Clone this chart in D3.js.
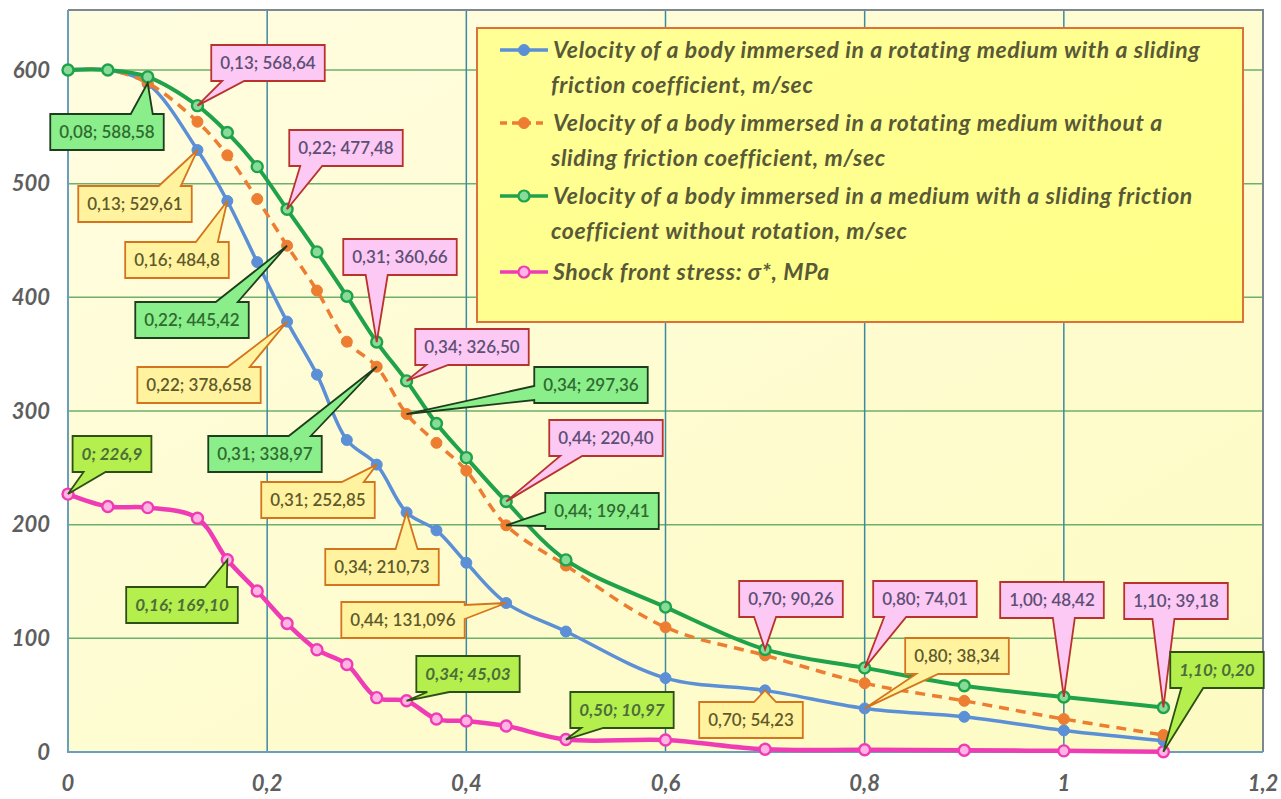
<!DOCTYPE html>
<html>
<head>
<meta charset="utf-8">
<script src="https://cdn.jsdelivr.net/npm/d3@7"></script>
<style>
body { margin: 0; background: #fff; }
svg { display: block; font-family: Lato, "Open Sans", sans-serif; }
</style>
</head>
<body>
<svg id="chart" width="1281" height="799"></svg>
<script>
// x = distance, same for every series
var xValues = [0, 0.04, 0.08, 0.13, 0.16, 0.19, 0.22, 0.25, 0.28, 0.31, 0.34, 0.37, 0.40, 0.44, 0.50, 0.60, 0.70, 0.80, 0.90, 1.00, 1.10];

// velocity, rotating medium, with sliding friction (m/sec)
var rotFriction = [600, 600, 588, 529.61, 484.8, 431, 378.658, 332, 274.5, 252.85, 210.73, 195, 166.5, 131.096, 106, 65, 54.23, 38.34, 31, 19, 10];
// velocity, rotating medium, without sliding friction (m/sec)
var rotNoFriction = [600, 600, 588.58, 554.5, 525, 486.5, 445.42, 406, 361, 338.97, 297.36, 272, 247.5, 199.41, 164, 109.7, 85, 60.5, 45, 29, 15];
// velocity, medium with friction, no rotation (m/sec)
var noRotation = [600, 600, 594, 568.64, 545, 515, 477.48, 440, 401, 360.66, 326.50, 289, 259, 220.40, 169, 127.5, 90.26, 74.01, 58.3, 48.42, 39.18];
// shock front stress (MPa)
var shockStress = [226.9, 216, 215, 205.6, 169.10, 141.6, 113, 90, 77, 47.8, 45.03, 29, 27.3, 22.9, 10.97, 10.5, 2.4, 2, 1.5, 1, 0.20];

var xTicks = [0, 0.2, 0.4, 0.6, 0.8, 1, 1.2];
var xTickLabels = ["0", "0,2", "0,4", "0,6", "0,8", "1", "1,2"];
var yTicks = [0, 100, 200, 300, 400, 500, 600];

var seriesNames = [
  ["Velocity of a body immersed in a rotating medium with a sliding", "friction coefficient, m/sec"],
  ["Velocity of a body immersed in a rotating medium without a", "sliding friction coefficient, m/sec"],
  ["Velocity of a body immersed in a medium with a sliding friction", "coefficient without rotation, m/sec"],
  ["Shock front stress: \u03c3*, MPa"]
];

// data labels: [series, point index, text]
var callouts = [
  [2, 3, "0,13; 568,64"], [1, 2, "0,08; 588,58"], [2, 6, "0,22; 477,48"],
  [0, 3, "0,13; 529,61"], [0, 4, "0,16; 484,8"], [2, 9, "0,31; 360,66"],
  [1, 6, "0,22; 445,42"], [0, 6, "0,22; 378,658"], [2, 10, "0,34; 326,50"],
  [1, 10, "0,34; 297,36"], [1, 9, "0,31; 338,97"], [0, 9, "0,31; 252,85"],
  [2, 13, "0,44; 220,40"], [1, 13, "0,44; 199,41"], [0, 10, "0,34; 210,73"],
  [0, 13, "0,44; 131,096"], [3, 4, "0,16; 169,10"], [3, 0, "0; 226,9"],
  [3, 10, "0,34; 45,03"], [3, 14, "0,50; 10,97"], [2, 16, "0,70; 90,26"],
  [0, 16, "0,70; 54,23"], [2, 17, "0,80; 74,01"], [0, 17, "0,80; 38,34"],
  [2, 19, "1,00; 48,42"], [2, 20, "1,10; 39,18"], [3, 20, "1,10; 0,20"]
];
// where each label box sits (centre, px)
var calloutPos = [
  [268, 63], [107, 132], [346, 148], [135, 204], [177, 260], [400, 257],
  [192, 320], [199, 385], [472, 347], [591, 385], [265, 454], [318, 500],
  [606, 438], [602, 511], [382, 567], [403, 620], [182, 605], [112, 454],
  [468, 674], [622, 710], [791, 599], [751, 720], [925, 599], [957, 656],
  [1052, 600], [1176, 601], [1217, 670]
];

var allSeries = [rotFriction, rotNoFriction, noRotation, shockStress];
var lineColors = ["#5b8fd6", "#ed7d31", "#1fa24a", "#f03cb4"];
var markerFill = ["#5b8fd6", "#ed7d31", "#86dc98", "#ffb4e4"];
var boxStyles = [
  {fill: "#fff3a0", stroke: "#d4741e", text: "#5f5a2a", italic: false},
  {fill: "#8aee8a", stroke: "#1e3c1e", text: "#2f6a2f", italic: false},
  {fill: "#fcc8f4", stroke: "#b8322e", text: "#5d4f75", italic: false},
  {fill: "#b5ef4e", stroke: "#2c4f16", text: "#4c6e38", italic: true}
];

var pL = 68, pR = 1263, pT = 10, pB = 752;
var svg = d3.select("#chart");
var x = d3.scaleLinear().domain([0, 1.2]).range([pL, pR]);
var y = d3.scaleLinear().domain([0, 652.8]).range([pB, pT]);

var defs = svg.append("defs");
var g1 = defs.append("linearGradient").attr("id", "plotBg").attr("x1", 0).attr("y1", 0).attr("x2", 1).attr("y2", 1);
g1.append("stop").attr("offset", 0).attr("stop-color", "#fffde0");
g1.append("stop").attr("offset", 1).attr("stop-color", "#fdfbc2");
var g2 = defs.append("linearGradient").attr("id", "legBg").attr("x1", 0).attr("y1", 0).attr("x2", 1).attr("y2", 1);
g2.append("stop").attr("offset", 0).attr("stop-color", "#ffff96");
g2.append("stop").attr("offset", 1).attr("stop-color", "#ffff88");

svg.append("rect").attr("x", pL).attr("y", pT).attr("width", pR - pL).attr("height", pB - pT)
  .attr("fill", "url(#plotBg)");

// grid
svg.selectAll("line.hgrid").data(yTicks.slice(1)).enter().append("line")
  .attr("class", "hgrid")
  .attr("x1", pL).attr("x2", pR)
  .attr("y1", function(d) { return y(d); }).attr("y2", function(d) { return y(d); })
  .attr("stroke", "#6cb06c").attr("stroke-width", 1.5);
svg.selectAll("line.vgrid").data(xTicks.slice(1, -1)).enter().append("line")
  .attr("class", "vgrid")
  .attr("y1", pT).attr("y2", pB)
  .attr("x1", function(d) { return x(d); }).attr("x2", function(d) { return x(d); })
  .attr("stroke", "#3a8aa6").attr("stroke-width", 1.5);

// frame
svg.append("path").attr("d", "M" + pL + "," + pT + "H" + pR + "V" + pB)
  .attr("fill", "none").attr("stroke", "#7d8890").attr("stroke-width", 2);
svg.append("path").attr("d", "M" + pL + "," + pT + "V" + pB + "H" + pR)
  .attr("fill", "none").attr("stroke", "#6a9ec0").attr("stroke-width", 2);

// tick labels
svg.selectAll("text.ylab").data(yTicks).enter().append("text")
  .attr("class", "ylab")
  .attr("x", 50).attr("y", function(d) { return y(d); })
  .attr("dy", "0.35em").attr("text-anchor", "end")
  .attr("font-size", 22).attr("font-style", "italic").attr("font-weight", "bold")
  .attr("fill", "#5e5e5e")
  .text(function(d) { return d; });
svg.selectAll("text.xlab").data(xTicks).enter().append("text")
  .attr("class", "xlab")
  .attr("x", function(d) { return x(d); }).attr("y", 783)
  .attr("dy", "0.35em").attr("text-anchor", "middle")
  .attr("font-size", 22).attr("font-style", "italic").attr("font-weight", "bold")
  .attr("fill", "#5e5e5e")
  .text(function(d, i) { return xTickLabels[i]; });

// legend
var legX = 477, legY = 28;
svg.append("rect").attr("x", legX).attr("y", legY).attr("width", 766).attr("height", 294)
  .attr("fill", "url(#legBg)").attr("stroke", "#e0703a").attr("stroke-width", 2);
var legRows = [50, 123, 196, 272];
seriesNames.forEach(function(lines, i) {
  var ly = legRows[i];
  svg.append("line").attr("x1", 500).attr("x2", 548).attr("y1", ly).attr("y2", ly)
    .attr("stroke", lineColors[i]).attr("stroke-width", 3.5)
    .attr("stroke-dasharray", i === 1 ? "7,5" : null);
  svg.append("circle").attr("cx", 524).attr("cy", ly).attr("r", 5.5)
    .attr("fill", markerFill[i]).attr("stroke", lineColors[i]).attr("stroke-width", i >= 2 ? 2.2 : 1);
  lines.forEach(function(t, k) {
    svg.append("text").attr("x", k === 0 ? 553 : 551).attr("y", ly + k * 35)
      .attr("dy", "0.35em")
      .attr("font-size", 23).attr("font-style", "italic").attr("font-weight", "bold")
      .attr("letter-spacing", 0.6)
      .attr("fill", "#595937")
      .text(t);
  });
});

// series
var line = d3.line()
  .x(function(d) { return x(d[0]); })
  .y(function(d) { return y(d[1]); })
  .curve(d3.curveCatmullRom.alpha(0.5));

[3, 0, 1, 2].forEach(function(s) {
  var pts = xValues.map(function(v, i) { return [v, allSeries[s][i]]; });
  svg.append("path").datum(pts).attr("d", line)
    .attr("fill", "none").attr("stroke", lineColors[s])
    .attr("stroke-width", s === 3 ? 4.5 : (s === 2 ? 4 : 3.5))
    .attr("stroke-dasharray", s === 1 ? "10,7" : null)
    .attr("stroke-linejoin", "round");
  svg.append("g").selectAll("circle").data(pts).enter().append("circle")
    .attr("cx", function(d) { return x(d[0]); })
    .attr("cy", function(d) { return y(d[1]); })
    .attr("r", 5.5)
    .attr("fill", markerFill[s]).attr("stroke", lineColors[s])
    .attr("stroke-width", s >= 2 ? 2.4 : 1);
});

// callout boxes
function calloutPath(x0, y0, x1, y1, px, py) {
  var dx = px < x0 ? x0 - px : (px > x1 ? px - x1 : 0);
  var dy = py < y0 ? y0 - py : (py > y1 ? py - y1 : 0);
  var hw = 11, c;
  var p = [];
  if (dy > dx * 0.6) {
    c = Math.max(x0 + 22, Math.min(x1 - 22, px));
    if (py > y1) {
      p = [[x0, y0], [x1, y0], [x1, y1], [c + hw, y1], [px, py], [c - hw, y1], [x0, y1]];
    } else {
      p = [[x0, y0], [c - hw, y0], [px, py], [c + hw, y0], [x1, y0], [x1, y1], [x0, y1]];
    }
  } else {
    c = Math.max(y0 + 10, Math.min(y1 - 10, py));
    if (px < x0) {
      p = [[x0, y0], [x1, y0], [x1, y1], [x0, y1], [x0, c + 7], [px, py], [x0, c - 7]];
    } else {
      p = [[x0, y0], [x1, y0], [x1, c - 7], [px, py], [x1, c + 7], [x1, y1], [x0, y1]];
    }
  }
  return "M" + p.map(function(q) { return q.join(","); }).join("L") + "Z";
}

var labelLayer = svg.append("g");
callouts.forEach(function(cl, i) {
  var s = cl[0], st = boxStyles[s];
  var px = x(xValues[cl[1]]), py = y(allSeries[s][cl[1]]);
  var cx = calloutPos[i][0], cy = calloutPos[i][1];
  var grp = labelLayer.append("g");
  var path = grp.append("path");
  var txt = grp.append("text").attr("x", cx).attr("y", cy).attr("dy", "0.35em")
    .attr("text-anchor", "middle").attr("font-size", 17)
    .attr("font-style", st.italic ? "italic" : null)
    .attr("font-weight", st.italic ? "bold" : 600)
    .attr("fill", st.text).text(cl[2]);
  var w = txt.node().getComputedTextLength() + 18, h = 36;
  path.attr("d", calloutPath(cx - w / 2, cy - h / 2, cx + w / 2, cy + h / 2, px, py))
    .attr("fill", st.fill).attr("stroke", st.stroke).attr("stroke-width", 1.8)
    .attr("stroke-linejoin", "miter");
});
</script>
</body>
</html>
